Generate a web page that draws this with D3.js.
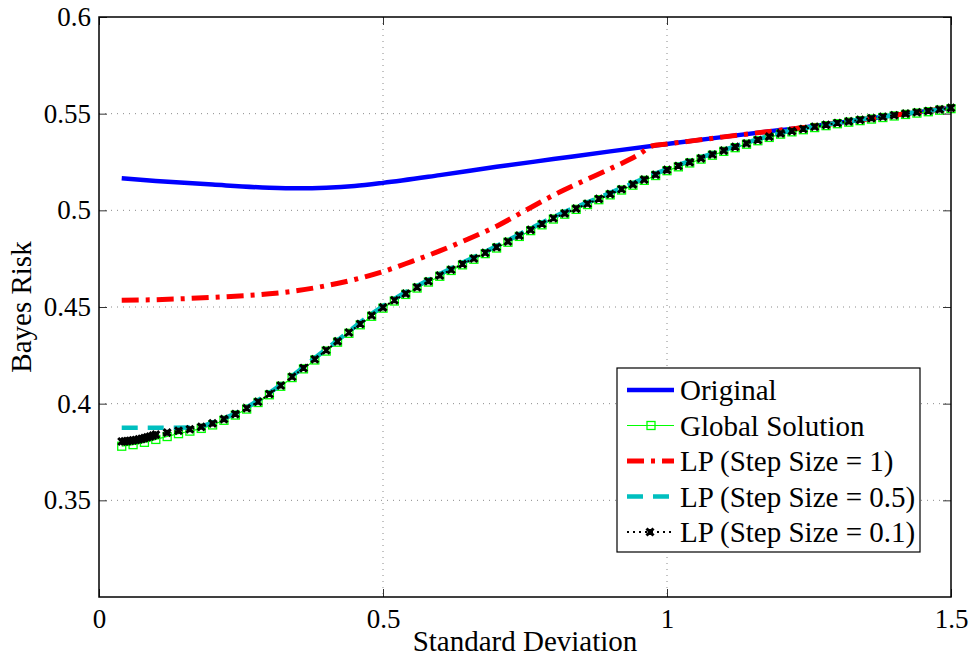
<!DOCTYPE html>
<html>
<head>
<meta charset="utf-8">
<script src="https://cdn.jsdelivr.net/npm/d3@7"></script>
<style>
  body { margin: 0; background: #fff; }
  svg text { font-family: "Liberation Serif", "Times New Roman", serif; fill: #000; }
</style>
</head>
<body>
<script>
// data
const xTicks = [0, 0.5, 1, 1.5];
const yTicks = [0.35, 0.4, 0.45, 0.5, 0.55, 0.6];
const gridY = [0.35, 0.4, 0.45, 0.5, 0.55];
const gridX = [0.5, 1];

// Original
const origX = [0.04, 0.1, 0.2, 0.3, 0.35, 0.4, 0.45, 0.5, 0.6, 0.7, 0.8, 0.9, 1.0, 1.1, 1.2, 1.25, 1.3, 1.4, 1.5];
const origY = [0.5166, 0.5152, 0.5133, 0.5117, 0.5114, 0.5117, 0.5126, 0.5142, 0.5182, 0.5225, 0.5265, 0.5305, 0.5343, 0.5380, 0.5415, 0.5432, 0.5452, 0.5492, 0.5530];

// LP step size 1
const lp1X = [0.04, 0.1, 0.2, 0.3, 0.35, 0.4, 0.45, 0.5, 0.55, 0.6, 0.65, 0.7, 0.75, 0.8, 0.85, 0.9, 0.95, 0.975, 1.0, 1.1, 1.2, 1.25, 1.3, 1.4, 1.5];
const lp1Y = [0.4535, 0.4538, 0.4550, 0.4568, 0.4585, 0.4610, 0.4642, 0.4683, 0.4735, 0.4790, 0.4852, 0.4918, 0.4998, 0.5078, 0.5148, 0.5215, 0.5288, 0.5334, 0.5343, 0.5380, 0.5415, 0.5432, 0.5452, 0.5492, 0.5530];

// LP step size 0.5
const lp05X = [0.04, 0.1, 0.17, 0.2, 0.25, 0.3, 0.4, 0.5, 0.6, 0.7, 0.8, 0.9, 1.0, 1.1, 1.2, 1.3, 1.4, 1.5];
const lp05Y = [0.3875, 0.3875, 0.3877, 0.3902, 0.3964, 0.4056, 0.4282, 0.4505, 0.4670, 0.4815, 0.4965, 0.5090, 0.5213, 0.5312, 0.5400, 0.5453, 0.5492, 0.5530];

// Global solution
const globX = [0.04, 0.06, 0.08, 0.10, 0.12, 0.14, 0.16, 0.18, 0.20, 0.22, 0.24, 0.26, 0.28, 0.30, 0.32, 0.34, 0.36, 0.38, 0.40,
  0.42, 0.44, 0.46, 0.48, 0.50, 0.52, 0.54, 0.56, 0.58, 0.60, 0.62, 0.64, 0.66, 0.68, 0.70, 0.72, 0.74, 0.76, 0.78, 0.80,
  0.82, 0.84, 0.86, 0.88, 0.90, 0.92, 0.94, 0.96, 0.98, 1.00, 1.02, 1.04, 1.06, 1.08, 1.10, 1.12, 1.14, 1.16, 1.18, 1.20,
  1.22, 1.24, 1.26, 1.28, 1.30, 1.32, 1.34, 1.36, 1.38, 1.40, 1.42, 1.44, 1.46, 1.48, 1.50];
const globY = [0.3780, 0.3788, 0.3800, 0.3815, 0.3830, 0.3845, 0.3858, 0.3872, 0.3890, 0.3914, 0.3941, 0.3972, 0.4006, 0.4046, 0.4090, 0.4135, 0.4180, 0.4226, 0.4272,
  0.4318, 0.4364, 0.4408, 0.4452, 0.4494, 0.4531, 0.4565, 0.4598, 0.4629, 0.4659, 0.4689, 0.4718, 0.4747, 0.4776, 0.4805, 0.4835, 0.4865, 0.4895, 0.4925, 0.4955,
  0.4980, 0.5005, 0.5030, 0.5055, 0.5080, 0.5105, 0.5130, 0.5155, 0.5180, 0.5205, 0.5225, 0.5245, 0.5265, 0.5285, 0.5305, 0.5324, 0.5342, 0.5360, 0.5377, 0.5394,
  0.5406, 0.5417, 0.5428, 0.5438, 0.5448, 0.5456, 0.5464, 0.5472, 0.5480, 0.5488, 0.5496, 0.5503, 0.5510, 0.5518, 0.5526];

// LP step size 0.1
const lp01X = [0.04, 0.045, 0.05, 0.055, 0.06, 0.065, 0.07, 0.075, 0.08, 0.085, 0.09, 0.095, 0.10, 0.12, 0.14, 0.16, 0.18, 0.20, 0.22, 0.24, 0.26, 0.28, 0.30, 0.32, 0.34, 0.36, 0.38, 0.40,
  0.42, 0.44, 0.46, 0.48, 0.50, 0.52, 0.54, 0.56, 0.58, 0.60, 0.62, 0.64, 0.66, 0.68, 0.70, 0.72, 0.74, 0.76, 0.78, 0.80,
  0.82, 0.84, 0.86, 0.88, 0.90, 0.92, 0.94, 0.96, 0.98, 1.00, 1.02, 1.04, 1.06, 1.08, 1.10, 1.12, 1.14, 1.16, 1.18, 1.20,
  1.22, 1.24, 1.26, 1.28, 1.30, 1.32, 1.34, 1.36, 1.38, 1.40, 1.42, 1.44, 1.46, 1.48, 1.50];
const lp01Y = [0.3804, 0.3805, 0.3806, 0.3808, 0.3810, 0.3812, 0.3815, 0.3818, 0.3822, 0.3826, 0.3830, 0.3835, 0.3840, 0.3850, 0.3860, 0.3868, 0.3880, 0.3898, 0.3920, 0.3946, 0.3976, 0.4010, 0.4050, 0.4094, 0.4139, 0.4184, 0.4230, 0.4276,
  0.4322, 0.4368, 0.4412, 0.4456, 0.4498, 0.4535, 0.4569, 0.4602, 0.4633, 0.4663, 0.4693, 0.4722, 0.4751, 0.4780, 0.4809, 0.4839, 0.4869, 0.4899, 0.4929, 0.4959,
  0.4984, 0.5009, 0.5034, 0.5059, 0.5084, 0.5109, 0.5134, 0.5159, 0.5184, 0.5209, 0.5229, 0.5249, 0.5269, 0.5289, 0.5309, 0.5328, 0.5346, 0.5364, 0.5381, 0.5398,
  0.5410, 0.5421, 0.5432, 0.5442, 0.5452, 0.5460, 0.5468, 0.5476, 0.5484, 0.5492, 0.5500, 0.5507, 0.5514, 0.5522, 0.5530];

const legendNames = ["Original", "Global Solution", "LP (Step Size = 1)", "LP (Step Size = 0.5)", "LP (Step Size = 0.1)"];

const W = 974, H = 660;
const plotL = 99, plotR = 951, plotT = 17, plotB = 597;

const svg = d3.select("body").append("svg")
    .attr("width", W)
    .attr("height", H);

const x = d3.scaleLinear().domain([0, 1.5]).range([plotL, plotR]);
const y = d3.scaleLinear().domain([0.3, 0.6]).range([plotB, plotT]);

const zip = (xs, ys) => xs.map((v, i) => [v, ys[i]]);
const line = d3.line().x(d => x(d[0])).y(d => y(d[1])).curve(d3.curveMonotoneX);

// grid
svg.append("g").selectAll("line").data(gridY).join("line")
    .attr("x1", plotL).attr("x2", plotR)
    .attr("y1", d => y(d)).attr("y2", d => y(d))
    .attr("stroke", "#8a8a8a").attr("stroke-width", 1)
    .attr("stroke-dasharray", "1,5");
svg.append("g").selectAll("line").data(gridX).join("line")
    .attr("y1", plotT).attr("y2", plotB)
    .attr("x1", d => x(d)).attr("x2", d => x(d))
    .attr("stroke", "#8a8a8a").attr("stroke-width", 1)
    .attr("stroke-dasharray", "1,5");

// series
const styles = [
    { color: "#0000ff", width: 4.5, dash: null },
    { color: "#00ff00", width: 1.2, dash: null },
    { color: "#ff0000", width: 5, dash: "17,7,4,7" },
    { color: "#00bfbf", width: 4.5, dash: "16,10" },
    { color: "#000000", width: 2, dash: "2,4" }
];
const series = [zip(origX, origY), zip(globX, globY), zip(lp1X, lp1Y), zip(lp05X, lp05Y), zip(lp01X, lp01Y)];

const plot = svg.append("g");
series.forEach((pts, i) => {
    const s = styles[i];
    plot.append("path")
        .datum(pts)
        .attr("d", line)
        .attr("fill", "none")
        .attr("stroke", s.color)
        .attr("stroke-width", s.width)
        .attr("stroke-dasharray", s.dash);

    if (i === 1) {
        plot.append("g").selectAll("rect").data(pts).join("rect")
            .attr("x", d => x(d[0]) - 4).attr("y", d => y(d[1]) - 4)
            .attr("width", 8).attr("height", 8)
            .attr("fill", "none").attr("stroke", s.color).attr("stroke-width", 1.3);
    }
    if (i === 4) {
        plot.append("g").selectAll("path").data(pts).join("path")
            .attr("transform", d => `translate(${x(d[0])},${y(d[1])})`)
            .attr("d", "M-3.5,-3.5L3.5,3.5M-3.5,3.5L3.5,-3.5M0,-3L0,3")
            .attr("stroke", "#000").attr("stroke-width", 3).attr("fill", "none");
    }
});

// axes, MATLAB style box with inward ticks
const fmt = d => String(d);
svg.append("g")
    .attr("transform", `translate(0,${plotB})`)
    .call(d3.axisBottom(x).tickValues(xTicks).tickFormat(fmt).tickSizeInner(-8).tickSizeOuter(0).tickPadding(12))
    .call(g => g.select(".domain").remove());
svg.append("g")
    .attr("transform", `translate(0,${plotT})`)
    .call(d3.axisTop(x).tickValues(xTicks).tickFormat("").tickSizeInner(-8).tickSizeOuter(0))
    .call(g => g.select(".domain").remove());
svg.append("g")
    .attr("transform", `translate(${plotL},0)`)
    .call(d3.axisLeft(y).tickValues(yTicks).tickFormat(fmt).tickSizeInner(-8).tickSizeOuter(0).tickPadding(8))
    .call(g => g.select(".domain").remove());
svg.append("g")
    .attr("transform", `translate(${plotR},0)`)
    .call(d3.axisRight(y).tickValues(yTicks).tickFormat("").tickSizeInner(-8).tickSizeOuter(0))
    .call(g => g.select(".domain").remove());

svg.selectAll(".tick line").attr("stroke", "#333").attr("stroke-width", 1);
svg.selectAll(".tick text")
    .style("font-family", '"Liberation Serif", serif')
    .style("font-size", "27px")
    .attr("fill", "#000");

svg.append("rect")
    .attr("x", plotL).attr("y", plotT)
    .attr("width", plotR - plotL).attr("height", plotB - plotT)
    .attr("fill", "none").attr("stroke", "#000").attr("stroke-width", 1.5);

// axis labels
svg.append("text")
    .attr("x", (plotL + plotR) / 2).attr("y", 651)
    .attr("text-anchor", "middle")
    .style("font-size", "29px")
    .text("Standard Deviation");
svg.append("text")
    .attr("transform", `translate(31,${(plotT + plotB) / 2}) rotate(-90)`)
    .attr("text-anchor", "middle")
    .style("font-size", "29px")
    .text("Bayes Risk");

// legend
const lg = svg.append("g");
lg.append("rect")
    .attr("x", 617).attr("y", 368).attr("width", 303).attr("height", 184)
    .attr("fill", "#fff").attr("stroke", "#000").attr("stroke-width", 1.2);

legendNames.forEach((name, i) => {
    const cy = 390 + i * 35.5;
    const s = styles[i];
    lg.append("line")
        .attr("x1", 627).attr("x2", 674).attr("y1", cy).attr("y2", cy)
        .attr("stroke", s.color).attr("stroke-width", s.width)
        .attr("stroke-dasharray", s.dash);
    if (i === 1) {
        lg.append("rect").attr("x", 647).attr("y", cy - 4).attr("width", 8).attr("height", 8)
            .attr("fill", "none").attr("stroke", s.color).attr("stroke-width", 1.3);
    }
    if (i === 4) {
        lg.append("path")
            .attr("transform", `translate(650,${cy})`)
            .attr("d", "M-3.5,-3.5L3.5,3.5M-3.5,3.5L3.5,-3.5M0,-3L0,3")
            .attr("stroke", "#000").attr("stroke-width", 3);
    }
    lg.append("text")
        .attr("x", 680).attr("y", cy + 10)
        .style("font-size", "29px")
        .text(name);
});
</script>
</body>
</html>
